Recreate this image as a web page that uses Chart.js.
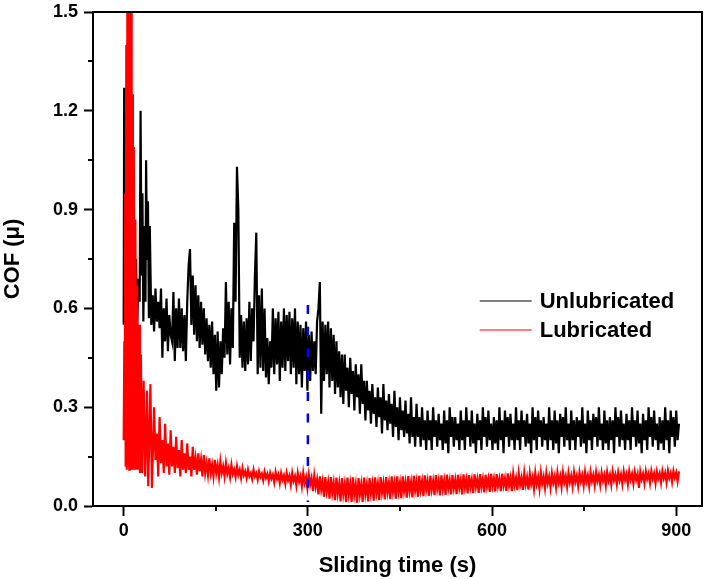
<!DOCTYPE html>
<html><head><meta charset="utf-8">
<script src="https://cdn.jsdelivr.net/npm/chart.js@4.4.1/dist/chart.umd.min.js"></script>
<style>html,body{margin:0;padding:0;background:#fff;}canvas{display:block;}</style>
</head><body>
<canvas id="c" width="707" height="579"></canvas>
<script>
// ---------- data (read / estimated from the reference picture) ----------
const xTicks = [0, 300, 600, 900];
const xMinorTicks = [150, 450, 750];
const yTicks = [0, 0.3, 0.6, 0.9, 1.2, 1.5];
const yMinorTicks = [0.15, 0.45, 0.75, 1.05, 1.35];
const xRange = [-50, 942];
const yRange = [0, 1.5];
const seriesNames = ['Unlubricated', 'Lubricated'];
const sampleStep = 2.25; // seconds between regular samples

// Unlubricated (black): early burst with explicit times, then regular samples (one row = 45 s)
const blackEarlyTime = [0,0.8,1.5,2.2,3,4,6,8,10,12,14,16,18,20,22,24,26,27.5,29,30.5,32,34,35.5,36.5,38,39.5,41,42.5];
const blackEarlyCof  = [0.55,1.27,0.75,1.19,0.53,1.00,0.65,0.95,0.60,0.90,0.62,0.85,0.60,0.75,0.55,0.69,0.62,1.20,0.70,0.95,0.56,0.85,0.62,1.05,0.75,0.925,0.57,0.85];
const blackStart = 45;
const blackCof = [
 0.55,0.64,0.53,0.66,0.56,0.62,0.54,0.66,0.45,0.60,0.50,0.63,0.47,0.58,0.52,0.50,0.65,0.44,0.60,0.48,
 0.63,0.48,0.60,0.47,0.58,0.44,0.62,0.73,0.78,0.55,0.70,0.52,0.67,0.50,0.64,0.48,0.62,0.49,0.60,0.46,
 0.57,0.44,0.55,0.42,0.56,0.40,0.52,0.35,0.53,0.36,0.50,0.40,0.54,0.45,0.68,0.46,0.62,0.43,0.60,0.48,
 0.86,0.62,1.03,0.90,0.45,0.58,0.42,0.56,0.41,0.57,0.43,0.62,0.44,0.60,0.50,0.70,0.83,0.40,0.64,0.42,
 0.66,0.41,0.60,0.39,0.51,0.37,0.50,0.42,0.60,0.40,0.57,0.43,0.59,0.38,0.56,0.42,0.60,0.41,0.58,0.44,
 0.59,0.40,0.57,0.42,0.60,0.37,0.56,0.40,0.55,0.36,0.54,0.41,0.56,0.35,0.52,0.38,0.53,0.41,0.50,0.40,
 0.56,0.60,0.68,0.28,0.56,0.38,0.55,0.40,0.56,0.36,0.54,0.38,0.52,0.34,0.50,0.36,0.47,0.33,0.46,0.31,
 0.46,0.35,0.42,0.30, 0.45,0.34,0.41,0.29, 0.43,0.33,0.40,0.28, 0.43,0.31,0.38,0.26, 0.38,0.29,0.35,0.25,
 0.37,0.28,0.33,0.24, 0.36,0.27,0.33,0.22, 0.37,0.26,0.32,0.23, 0.34,0.25,0.31,0.21, 0.35,0.24,0.30,0.20,
 0.33,0.23,0.29,0.21, 0.32,0.22,0.28,0.19, 0.33,0.21,0.27,0.18, 0.31,0.21,0.27,0.18, 0.30,0.20,0.26,0.17,
 0.29,0.20,0.26,0.17, 0.30,0.21,0.26,0.18, 0.28,0.20,0.25,0.17, 0.29,0.19,0.26,0.16, 0.30,0.21,0.27,0.18,
 0.27,0.20,0.25,0.17, 0.29,0.20,0.26,0.17, 0.30,0.21,0.26,0.18, 0.29,0.19,0.25,0.16, 0.28,0.20,0.26,0.17,
 0.30,0.21,0.27,0.18, 0.29,0.20,0.25,0.17, 0.27,0.19,0.26,0.17, 0.30,0.20,0.26,0.16, 0.29,0.21,0.27,0.18,
 0.28,0.20,0.25,0.17, 0.30,0.20,0.26,0.17, 0.29,0.21,0.26,0.18, 0.28,0.19,0.25,0.16, 0.30,0.20,0.27,0.17,
 0.29,0.21,0.26,0.18, 0.27,0.20,0.25,0.17, 0.30,0.20,0.26,0.17, 0.29,0.19,0.26,0.16, 0.28,0.21,0.27,0.18,
 0.30,0.20,0.25,0.17, 0.29,0.20,0.26,0.17, 0.27,0.21,0.26,0.18, 0.30,0.19,0.25,0.16, 0.29,0.20,0.26,0.17,
 0.28,0.21,0.27,0.18, 0.30,0.20,0.25,0.17, 0.29,0.19,0.26,0.17, 0.27,0.20,0.26,0.16, 0.30,0.21,0.27,0.18,
 0.29,0.20,0.25,0.17, 0.28,0.20,0.26,0.17, 0.30,0.21,0.26,0.18, 0.29,0.19,0.25,0.16, 0.28,0.20,0.26,0.17,
 0.30,0.21,0.27,0.18, 0.29,0.20,0.25,0.17, 0.27,0.19,0.26,0.17, 0.30,0.20,0.26,0.16, 0.29,0.21,0.27,0.18,
 0.29,0.20,0.25
];

// Lubricated (red): early burst with explicit times, then regular samples (one row = 45 s)
const redEarlyTime = [0,1,1.8,2.5,3.2,4.2,5,6,7,8,9,10,11,12,13,14,15,16.5,18,19,20.5,22,23.5,25,26.5,28,30,32.5,35,38,40,43.5,46];
const redEarlyCof  = [0.20,0.50,0.30,0.95,0.12,1.40,0.11,1.60,0.12,1.60,0.11,1.60,0.12,1.55,0.11,1.25,0.11,1.09,0.11,0.87,0.11,0.67,0.11,0.55,0.10,0.46,0.10,0.38,0.09,0.35,0.06,0.37,0.055];
const redStart = 49.5;
const redCof = [
 0.30,0.14,0.22,0.09, 0.27,0.13,0.20,0.10, 0.25,0.12,0.19,0.095, 0.23,0.12,0.18,0.10, 0.21,0.115,0.17,0.09,
 0.20,0.11,0.16,0.10, 0.19,0.11,0.15,0.09, 0.18,0.11,0.145,0.095, 0.16,0.105,0.14,0.09, 0.155,0.10,0.13,0.095,
 0.145,0.10,0.125,0.09, 0.14,0.10,0.125,0.088, 0.135,0.10,0.12,0.09, 0.13,0.098,0.115,0.088, 0.125,0.097,0.11,0.088,
 0.12,0.095,0.11,0.085, 0.115,0.093,0.105,0.085, 0.11,0.09,0.10,0.082, 0.11,0.09,0.10,0.08, 0.105,0.088,0.098,0.078,
 0.104,0.085,0.097,0.075, 0.10,0.083,0.095,0.072, 0.103,0.082,0.095,0.07, 0.10,0.08,0.093,0.068, 0.10,0.078,0.092,0.065,
 0.10,0.076,0.09,0.062, 0.10,0.074,0.09,0.06, 0.10,0.07,0.088,0.055, 0.095,0.065,0.085,0.045, 0.092,0.058,0.08,0.035,
 0.09,0.05,0.075,0.028, 0.088,0.045,0.072,0.022, 0.088,0.04,0.07,0.018, 0.086,0.038,0.068,0.014, 0.085,0.036,0.066,0.012,
 0.086,0.036,0.066,0.012, 0.087,0.035,0.065,0.01, 0.085,0.036,0.066,0.012, 0.086,0.037,0.066,0.014, 0.085,0.038,0.067,0.016,
 0.087,0.04,0.068,0.018, 0.088,0.041,0.069,0.02, 0.088,0.042,0.07,0.021, 0.09,0.043,0.07,0.022, 0.09,0.044,0.071,0.024,
 0.09,0.045,0.072,0.025, 0.091,0.046,0.073,0.026, 0.092,0.047,0.074,0.028, 0.092,0.049,0.075,0.03, 0.093,0.05,0.076,0.031,
 0.092,0.05,0.076,0.033, 0.094,0.052,0.077,0.032, 0.093,0.052,0.078,0.034, 0.095,0.053,0.078,0.035, 0.094,0.054,0.079,0.036,
 0.095,0.055,0.079,0.035, 0.096,0.056,0.08,0.038, 0.094,0.057,0.08,0.039, 0.096,0.058,0.081,0.04, 0.097,0.058,0.082,0.041,
 0.095,0.059,0.082,0.043, 0.098,0.06,0.083,0.044, 0.097,0.061,0.083,0.045, 0.098,0.062,0.084,0.046, 0.099,0.062,0.085,0.045,
 0.097,0.063,0.085,0.048, 0.099,0.064,0.086,0.049, 0.10,0.065,0.087,0.05, 0.098,0.066,0.087,0.052, 0.10,0.067,0.088,0.053,
 0.101,0.068,0.089,0.055, 0.10,0.069,0.089,0.056, 0.099,0.07,0.09,0.057, 0.101,0.071,0.091,0.058, 0.102,0.072,0.091,0.059,
 0.10,0.072,0.092,0.06, 0.102,0.073,0.092,0.061, 0.101,0.074,0.093,0.062, 0.103,0.074,0.093,0.061, 0.102,0.075,0.094,0.063,
 0.103,0.076,0.094,0.064, 0.101,0.076,0.094,0.062, 0.103,0.077,0.095,0.065, 0.104,0.078,0.095,0.066, 0.102,0.078,0.096,0.067,
 0.104,0.079,0.096,0.066, 0.105,0.08,0.097,0.068, 0.103,0.08,0.097,0.055, 0.104,0.081,0.097,0.069, 0.105,0.082,0.098,0.07,
 0.106,0.083,0.099,0.069, 0.104,0.083,0.099,0.071, 0.106,0.084,0.10,0.072, 0.107,0.085,0.10,0.073, 0.106,0.086,0.101,0.075,
 0.105
];

// dashed marker line at 300 s
const markerTime = 300;
const markerCof = [0.61, 0.012];

// ---------- build points ----------
function buildPoints(earlyT, earlyV, start, vals) {
  const pts = earlyT.map((t, i) => ({x: t, y: earlyV[i]}));
  vals.forEach((v, i) => pts.push({x: start + i * sampleStep, y: v}));
  return pts;
}
const blackPts = buildPoints(blackEarlyTime, blackEarlyCof, blackStart, blackCof);
const redPts = buildPoints(redEarlyTime, redEarlyCof, redStart, redCof);
const markerPts = markerCof.map(v => ({x: markerTime, y: v}));

const FONT = '"Liberation Sans", Arial, Helvetica, sans-serif';
Chart.defaults.font.family = FONT;
Chart.defaults.color = '#000';

const framePlugin = {
  id: 'frame',
  afterDraw(chart) {
    const {ctx, chartArea: a, scales} = chart;
    ctx.save();
    ctx.strokeStyle = '#000';
    ctx.lineWidth = 2;
    ctx.strokeRect(a.left, a.top, a.right - a.left, a.bottom - a.top);
    // minor ticks
    ctx.beginPath();
    xMinorTicks.forEach(v => {
      const px = Math.round(scales.x.getPixelForValue(v));
      ctx.moveTo(px, a.bottom); ctx.lineTo(px, a.bottom + 5);
    });
    yMinorTicks.forEach(v => {
      const py = Math.round(scales.y.getPixelForValue(v));
      ctx.moveTo(a.left, py); ctx.lineTo(a.left - 5, py);
    });
    ctx.stroke();
    // legend inside plot
    const x0 = a.left + (a.right - a.left) * 0.635;
    const y0 = a.top + (a.bottom - a.top) * 0.585;
    seriesNames.forEach((name, i) => {
      const ds = chart.data.datasets.find(d => d.label === name);
      const y = y0 + i * 29;
      ctx.strokeStyle = ds.borderColor;
      ctx.lineWidth = 1.2;
      ctx.beginPath(); ctx.moveTo(x0, y); ctx.lineTo(x0 + 52, y); ctx.stroke();
      ctx.fillStyle = '#000';
      ctx.font = 'bold 22px ' + FONT;
      ctx.textBaseline = 'middle';
      ctx.textAlign = 'left';
      ctx.fillText(name, x0 + 60, y + 0.5);
    });
    ctx.restore();
  }
};

const noOverflowPad = s => { s.paddingTop = 0; s.paddingBottom = 0; s.paddingLeft = 0; s.paddingRight = 0; };

new Chart(document.getElementById('c'), {
  type: 'line',
  data: {
    datasets: [
      {label: 'marker', data: markerPts, borderColor: '#0000ff', borderWidth: 2.5, borderDash: [9, 12.7], pointRadius: 0, clip: 0},
      {label: seriesNames[1], data: redPts, borderColor: '#ff0000', borderWidth: 2.2, pointRadius: 0, clip: 0},
      {label: seriesNames[0], data: blackPts, borderColor: '#000000', borderWidth: 2.2, pointRadius: 0, clip: 0}
    ]
  },
  options: {
    responsive: false,
    devicePixelRatio: 1,
    animation: false,
    parsing: false,
    normalized: true,
    layout: {padding: {top: 12, right: 5, left: 0, bottom: 0}},
    plugins: {legend: {display: false}, tooltip: {enabled: false}},
    elements: {line: {tension: 0, borderJoinStyle: 'miter'}},
    scales: {
      x: {
        type: 'linear', min: xRange[0], max: xRange[1],
        afterBuildTicks: s => { s.ticks = xTicks.map(v => ({value: v})); },
        afterFit: s => { s.height = 73; noOverflowPad(s); },
        ticks: {font: {size: 18, weight: 'bold'}, color: '#000', padding: 4, maxRotation: 0, autoSkip: false,
                callback: v => String(v)},
        grid: {drawOnChartArea: false, drawTicks: true, tickLength: 10, tickWidth: 2, tickColor: '#000'},
        border: {display: true, width: 2, color: '#000'},
        title: {display: true, text: 'Sliding time (s)', font: {size: 22, weight: 'bold'}, color: '#000', padding: {top: 0, bottom: 0}}
      },
      y: {
        type: 'linear', min: yRange[0], max: yRange[1],
        afterBuildTicks: s => { s.ticks = yTicks.map(v => ({value: v})); },
        afterFit: s => { s.width = 93; noOverflowPad(s); },
        ticks: {font: {size: 18, weight: 'bold'}, color: '#000', padding: 6, autoSkip: false,
                callback: v => Number(v).toFixed(1)},
        grid: {drawOnChartArea: false, drawTicks: true, tickLength: 9, tickWidth: 2, tickColor: '#000'},
        border: {display: true, width: 2, color: '#000'},
        title: {display: true, text: 'COF (\u03bc)', font: {size: 22, weight: 'bold'}, color: '#000', padding: {top: 0, bottom: 0}}
      }
    }
  },
  plugins: [framePlugin]
});
</script>
</body></html>
